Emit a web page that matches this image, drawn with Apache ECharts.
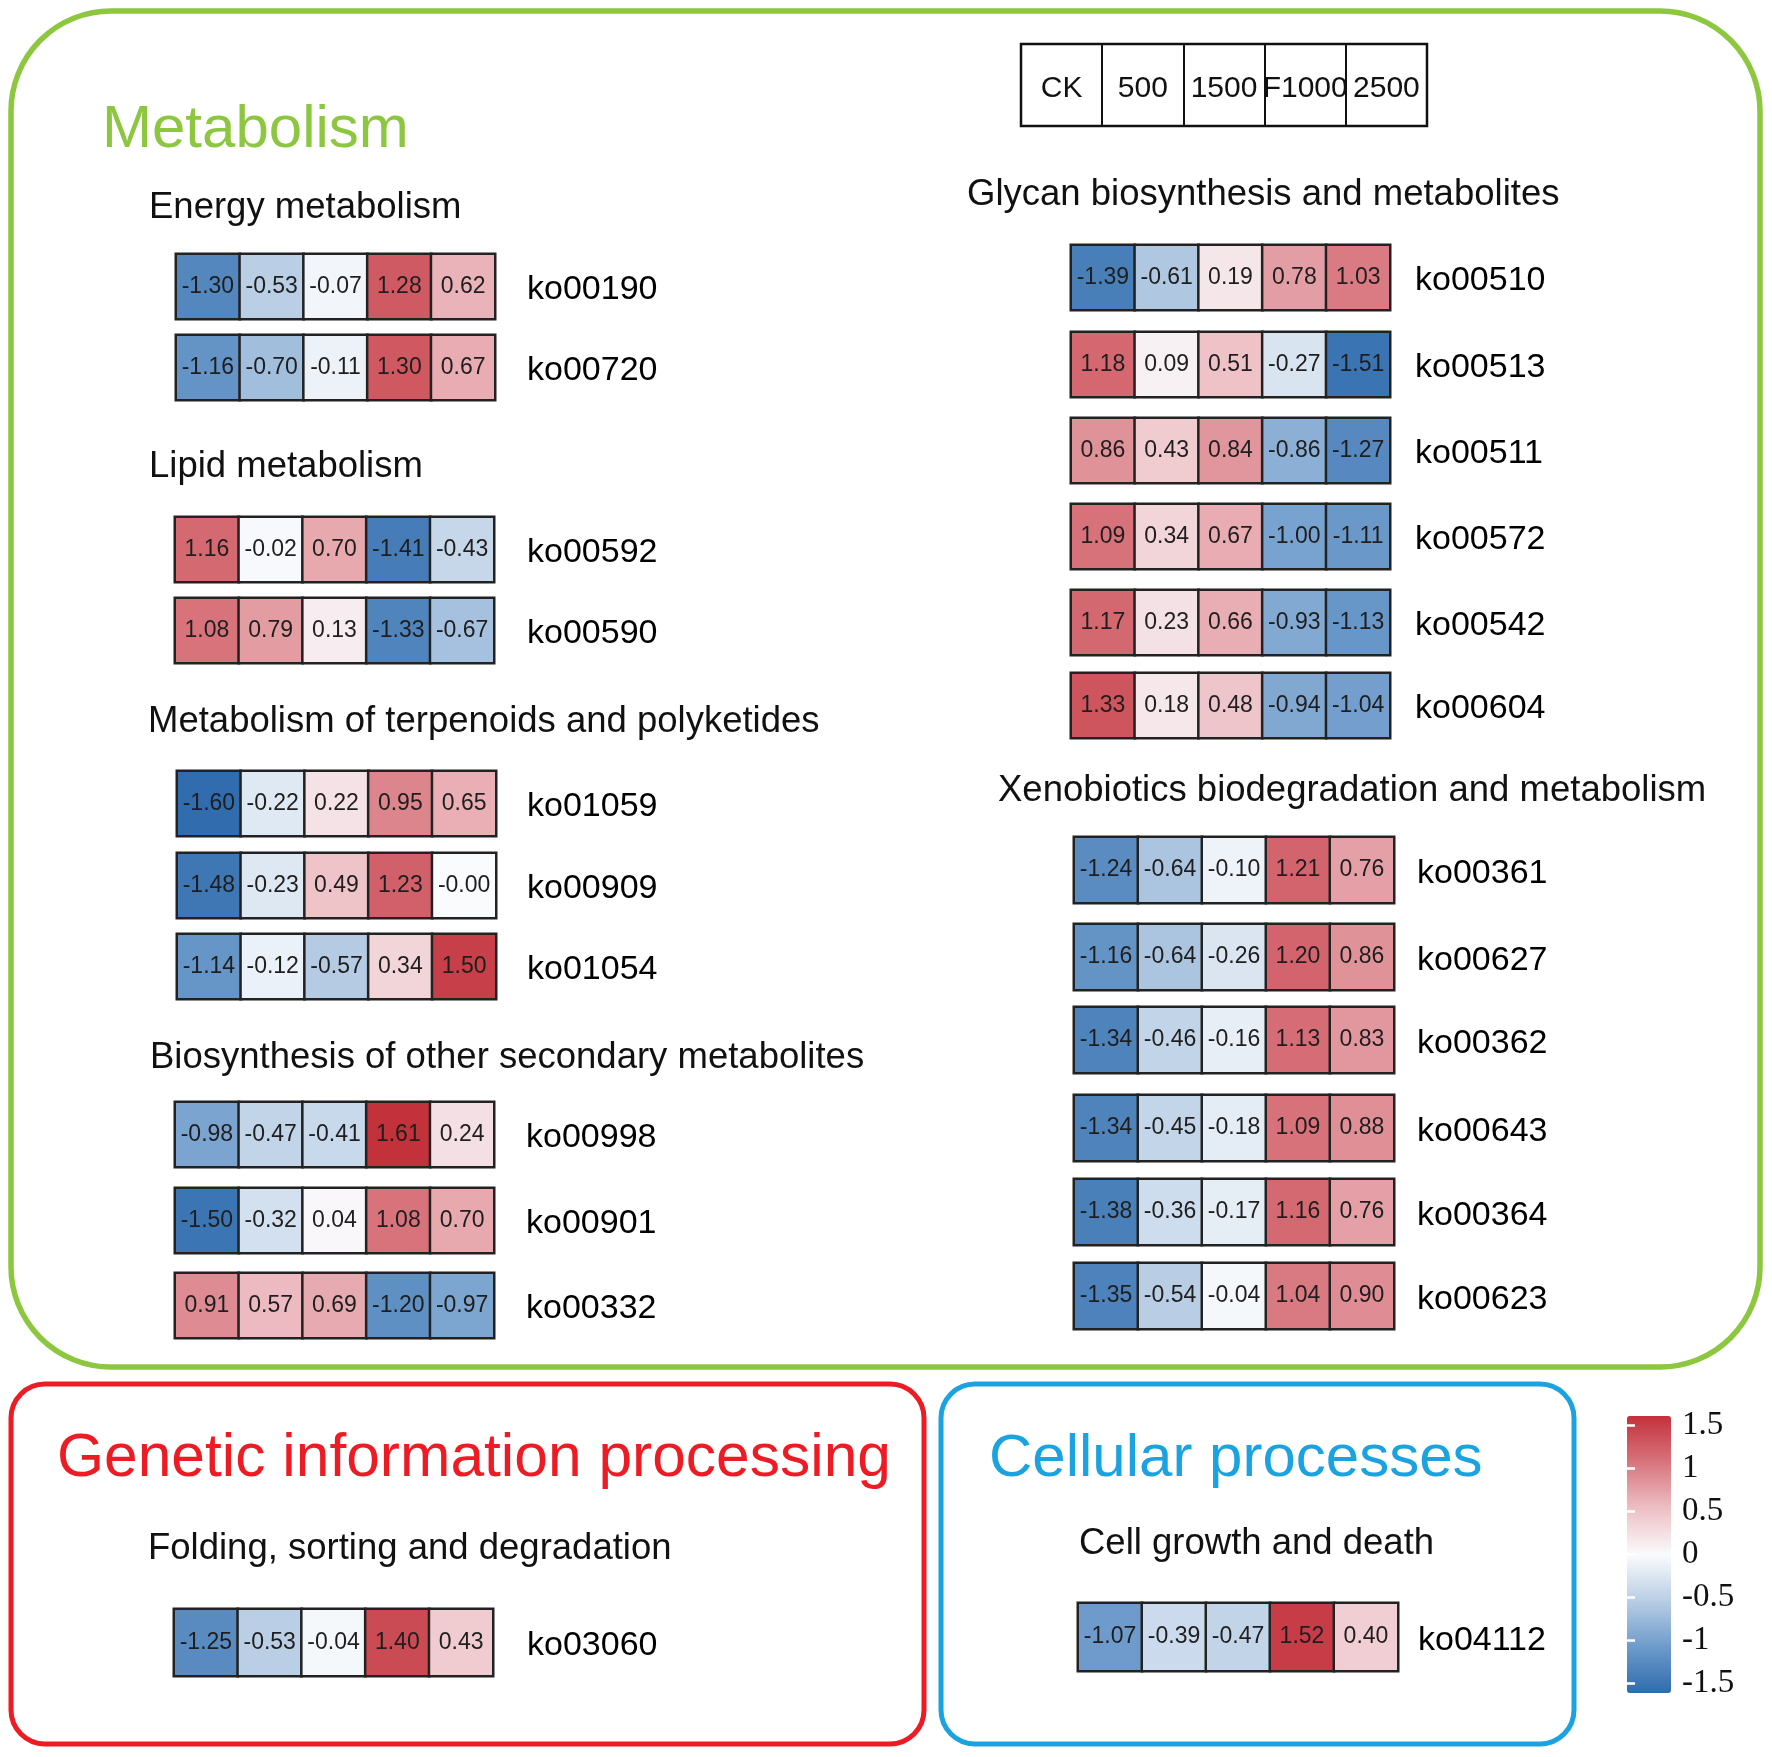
<!DOCTYPE html>
<html>
<head>
<meta charset="utf-8">
<script src="https://cdn.jsdelivr.net/npm/echarts@6/dist/echarts.min.js"></script>
<style>
html,body{margin:0;padding:0;background:#fff;}
#chart{width:1772px;height:1757px;}
</style>
</head>
<body>
<div id="chart"></div>
<script>
// ---------- DATA ----------
const treatments = ['CK', '500', '1500', 'F1000', '2500'];

const energyIds = ['ko00190', 'ko00720'];
const energyVals = [[-1.30, -0.53, -0.07, 1.28, 0.62], [-1.16, -0.70, -0.11, 1.30, 0.67]];

const lipidIds = ['ko00592', 'ko00590'];
const lipidVals = [[1.16, -0.02, 0.70, -1.41, -0.43], [1.08, 0.79, 0.13, -1.33, -0.67]];

const terpIds = ['ko01059', 'ko00909', 'ko01054'];
const terpVals = [[-1.60, -0.22, 0.22, 0.95, 0.65], [-1.48, -0.23, 0.49, 1.23, -0.003], [-1.14, -0.12, -0.57, 0.34, 1.50]];

const bioIds = ['ko00998', 'ko00901', 'ko00332'];
const bioVals = [[-0.98, -0.47, -0.41, 1.61, 0.24], [-1.50, -0.32, 0.04, 1.08, 0.70], [0.91, 0.57, 0.69, -1.20, -0.97]];

const glycanIds = ['ko00510', 'ko00513', 'ko00511', 'ko00572', 'ko00542', 'ko00604'];
const glycanVals = [[-1.39, -0.61, 0.19, 0.78, 1.03], [1.18, 0.09, 0.51, -0.27, -1.51], [0.86, 0.43, 0.84, -0.86, -1.27],
                    [1.09, 0.34, 0.67, -1.00, -1.11], [1.17, 0.23, 0.66, -0.93, -1.13], [1.33, 0.18, 0.48, -0.94, -1.04]];

const xenoIds = ['ko00361', 'ko00627', 'ko00362', 'ko00643', 'ko00364', 'ko00623'];
const xenoVals = [[-1.24, -0.64, -0.10, 1.21, 0.76], [-1.16, -0.64, -0.26, 1.20, 0.86], [-1.34, -0.46, -0.16, 1.13, 0.83],
                  [-1.34, -0.45, -0.18, 1.09, 0.88], [-1.38, -0.36, -0.17, 1.16, 0.76], [-1.35, -0.54, -0.04, 1.04, 0.90]];

const foldingIds = ['ko03060'];
const foldingVals = [[-1.25, -0.53, -0.04, 1.40, 0.43]];

const cellIds = ['ko04112'];
const cellVals = [[-1.07, -0.39, -0.47, 1.52, 0.40]];

const legendTicks = [-1.5, -1, -0.5, 0, 0.5, 1, 1.5];

// ---------- LAYOUT ----------
const blocks = [
  { ids: energyIds, vals: energyVals, left: 176, width: 319, tops: [254, 335], h: 65, margin: 32 },
  { ids: lipidIds, vals: lipidVals, left: 175, width: 319, tops: [517, 598], h: 65, margin: 33 },
  { ids: terpIds, vals: terpVals, left: 177, width: 319, tops: [771, 853, 934], h: 65, margin: 31 },
  { ids: bioIds, vals: bioVals, left: 175, width: 319, tops: [1102, 1188, 1273], h: 65, margin: 32 },
  { ids: glycanIds, vals: glycanVals, left: 1071, width: 319, tops: [245, 332, 418, 504, 590, 673], h: 65, margin: 25 },
  { ids: xenoIds, vals: xenoVals, left: 1074, width: 320, tops: [837, 924, 1007, 1095, 1179, 1263], h: 66, margin: 23 },
  { ids: foldingIds, vals: foldingVals, left: 174, width: 319, tops: [1609], h: 67, margin: 34 },
  { ids: cellIds, vals: cellVals, left: 1078, width: 320, tops: [1603], h: 68, margin: 20 }
];

const FONT = '"Liberation Sans", Arial, sans-serif';
const grids = [], xAxes = [], yAxes = [], series = [];

blocks.forEach(b => {
  b.ids.forEach((id, r) => {
    const gi = grids.length;
    grids.push({ left: b.left, top: b.tops[r], width: b.width, height: b.h, containLabel: false });
    xAxes.push({ type: 'category', gridIndex: gi, data: treatments, show: false });
    yAxes.push({
      type: 'category', gridIndex: gi, data: [id], position: 'right',
      axisLine: { show: false }, axisTick: { show: false },
      axisLabel: { margin: b.margin, fontSize: 34, fontFamily: FONT, color: '#000', verticalAlign: 'top', lineHeight: 7 }
    });
    series.push({
      type: 'heatmap', xAxisIndex: gi, yAxisIndex: gi,
      data: b.vals[r].map((v, c) => [c, 0, v]),
      itemStyle: { borderColor: '#222', borderWidth: 2.5 },
      label: {
        show: true, fontSize: 23, fontFamily: FONT, color: '#1e1e1e',
        formatter: p => p.value[2].toFixed(2)
      },
      emphasis: { disabled: true },
      silent: true
    });
  });
});

// header table (treatment order)
const hi = grids.length;
grids.push({ left: 1021, top: 44, width: 406, height: 82, show: true, borderColor: '#111', borderWidth: 2.5, backgroundColor: 'transparent' });
xAxes.push({
  type: 'category', gridIndex: hi, data: treatments, boundaryGap: true,
  axisLine: { show: false }, axisTick: { show: false },
  splitLine: { show: true, interval: 0, lineStyle: { color: '#111', width: 2 } },
  axisLabel: { inside: true, interval: 0, margin: 37, verticalAlign: 'middle', fontSize: 30, fontFamily: FONT, color: '#111' }
});
yAxes.push({ type: 'value', gridIndex: hi, show: false });

// legend axis grid
const li = grids.length;
grids.push({ left: 1627, top: 1425, width: 44, height: 258 });
xAxes.push({ type: 'value', gridIndex: li, show: false });
yAxes.push({
  type: 'value', gridIndex: li, min: -1.5, max: 1.5, interval: 0.5, position: 'right', z: 10,
  axisLine: { show: false }, splitLine: { show: false },
  axisTick: { show: true, inside: true, length: 8, lineStyle: { color: '#fff', width: 2.5 } },
  axisLabel: { margin: 11, fontSize: 33, fontFamily: '"Liberation Serif", "Times New Roman", serif', color: '#111',
               formatter: v => String(legendTicks.find(t => Math.abs(t - v) < 1e-6) ?? v) }
});
yAxes.push({
  type: 'value', gridIndex: li, min: -1.5, max: 1.5, interval: 0.5, position: 'left', z: 10,
  axisLine: { show: false }, splitLine: { show: false }, axisLabel: { show: false },
  axisTick: { show: true, inside: true, length: 8, lineStyle: { color: '#fff', width: 2.5 } }
});

const green = '#8DC63F', red = '#ED1C24', blue = '#1AA3E0';
function txt(x, y, text, size, color) {
  return { type: 'text', x: x, y: y, z: 20,
    style: { text: text, font: size + 'px ' + FONT, fill: color, textVerticalAlign: 'middle', verticalAlign: 'middle' } };
}
const graphics = [
  { type: 'rect', z: 1, shape: { x: 11, y: 11, width: 1749, height: 1356, r: 100 }, style: { fill: 'none', stroke: green, lineWidth: 5.5 } },
  { type: 'rect', z: 1, shape: { x: 11, y: 1384, width: 913, height: 360, r: 34 }, style: { fill: 'none', stroke: red, lineWidth: 5 } },
  { type: 'rect', z: 1, shape: { x: 941, y: 1384, width: 633, height: 360, r: 34 }, style: { fill: 'none', stroke: blue, lineWidth: 5 } },
  txt(102, 130, 'Metabolism', 60, green),
  txt(57, 1459, 'Genetic information processing', 60.5, red),
  txt(989, 1459, 'Cellular processes', 60, blue),
  txt(149, 208, 'Energy metabolism', 36.5, '#111'),
  txt(149, 467, 'Lipid metabolism', 36.5, '#111'),
  txt(148, 722, 'Metabolism of terpenoids and polyketides', 36.5, '#111'),
  txt(150, 1058, 'Biosynthesis of other secondary metabolites', 36.5, '#111'),
  txt(967, 195, 'Glycan biosynthesis and metabolites', 36.5, '#111'),
  txt(998, 791, 'Xenobiotics biodegradation and metabolism', 36.5, '#111'),
  txt(148, 1549, 'Folding, sorting and degradation', 36.5, '#111'),
  txt(1079, 1544, 'Cell growth and death', 36.5, '#111')
];

const chart = echarts.init(document.getElementById('chart'), null, { renderer: 'canvas' });
chart.setOption({
  animation: false,
  backgroundColor: '#fff',
  grid: grids,
  xAxis: xAxes,
  yAxis: yAxes,
  visualMap: {
    type: 'continuous', min: -1.61, max: 1.61, calculable: false, orient: 'vertical', z: 2,
    left: 1627, top: 1416, itemWidth: 44, itemHeight: 277, padding: 0,
    seriesIndex: series.map((s, i) => i),
    inRange: { color: ['#2F6BAD', '#6E9BCB', '#B9CEE5', '#FAFBFD', '#EDBFC4', '#D8747D', '#C3313B'] },
    text: null, showLabel: false
  },
  series: series,
  graphic: graphics
});
</script>
</body>
</html>
